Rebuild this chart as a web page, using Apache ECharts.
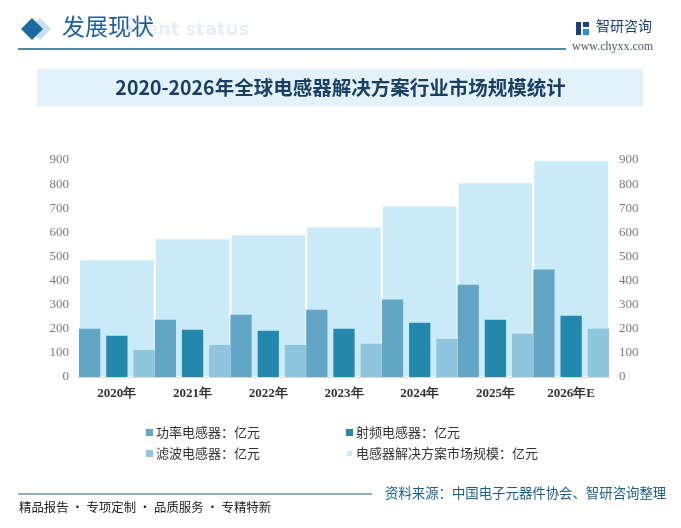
<!DOCTYPE html>
<html>
<head>
<meta charset="utf-8">
<script src="https://cdn.jsdelivr.net/npm/echarts@6/dist/echarts.min.js"></script>
<style>
  html, body { margin: 0; padding: 0; background: #fff; }
  #main { width: 681px; height: 528px; }
</style>
</head>
<body>
<div id="main"></div>
<script>
const years = ['2020年', '2021年', '2022年', '2023年', '2024年', '2025年', '2026年E'];
const powerInductor = [200, 237, 258, 279, 321, 383, 446];
const rfInductor = [171, 196, 192, 200, 225, 237, 254];
const filterInductor = [112, 133, 133, 138, 158, 179, 200];
const marketSize = [488, 575, 592, 625, 712, 808, 900];
const yTicks = [0, 900, 100];

const names = ['功率电感器：亿元', '射频电感器：亿元', '滤波电感器：亿元', '电感器解决方案市场规模：亿元'];
const colors = ['#62a5c4', '#2488ac', '#8fc6dd', '#cbeaf8'];

let chart = echarts.init(document.getElementById('main'));

let yAxisBase = {
    type: 'value',
    min: yTicks[0],
    max: yTicks[1],
    interval: yTicks[2],
    splitLine: { show: false },
    axisLine: { show: false },
    axisTick: { show: false },
    axisLabel: { color: '#7a7a7a', fontSize: 13, fontFamily: 'Liberation Serif', margin: 10 }
};

let legendBase = {
    top: 421, orient: 'vertical', itemGap: 8,
    itemWidth: 7, itemHeight: 7, icon: 'rect',
    textStyle: { color: '#333', fontSize: 13, fontFamily: 'Noto Sans CJK SC', padding: [0, 0, 0, -2] }
};

let option = {
    animation: false,
    backgroundColor: '#fff',
    grid: { left: 79, right: 72, top: 160, bottom: 151 },
    xAxis: [
        {
            type: 'category',
            data: years,
            axisLine: { lineStyle: { color: '#d9d9d9' } },
            axisTick: { show: false },
            axisLabel: { color: '#333', fontWeight: 'bold', fontSize: 13, fontFamily: 'Liberation Serif', margin: 10 }
        },
        { type: 'category', data: years, show: false }
    ],
    yAxis: [
        Object.assign({ position: 'left' }, yAxisBase),
        Object.assign({ position: 'right' }, yAxisBase)
    ],
    legend: [
        Object.assign({ left: 141, data: [names[0], names[2]] }, legendBase),
        Object.assign({ left: 340, data: [names[1], names[3]] }, legendBase)
    ],
    series: [
        {
            name: names[3], type: 'bar', data: marketSize,
            xAxisIndex: 1, yAxisIndex: 0, z: 1,
            barCategoryGap: '0%',
            itemStyle: { color: colors[3], borderColor: '#fff', borderWidth: 1 }
        },
        {
            name: names[0], type: 'bar', data: powerInductor, z: 2,
            barCategoryGap: '0%', barGap: '28%',
            itemStyle: { color: colors[0] }
        },
        {
            name: names[1], type: 'bar', data: rfInductor, z: 2,
            barGap: '28%',
            itemStyle: { color: colors[1] }
        },
        {
            name: names[2], type: 'bar', data: filterInductor, z: 2,
            barGap: '28%',
            itemStyle: { color: colors[2] }
        }
    ],
    graphic: [
        // header
        { type: 'text', left: 127, top: 21, z: 0,
          style: { text: 'ment status', fill: '#e8eef3', font: 'bold 18px "DejaVu Sans"' } },
        { type: 'polygon', z: 1, shape: { points: [[40, 18], [51, 29], [40, 40], [29, 29]] },
          style: { fill: '#c9dff0' } },
        { type: 'polygon', z: 2, shape: { points: [[32, 18], [43, 29], [32, 40], [21, 29]] },
          style: { fill: '#1d69a3' } },
        { type: 'text', left: 62, top: 15, z: 3,
          style: { text: '发展现状', fill: '#1d5f96', font: '23px "Noto Sans CJK SC"' } },
        { type: 'line', z: 2, shape: { x1: 18, y1: 49, x2: 566, y2: 49 },
          style: { stroke: '#1d5f8a', lineWidth: 1.5 } },
        // logo
        { type: 'rect', z: 2, shape: { x: 576, y: 22, width: 5, height: 13 }, style: { fill: '#1d3f7a' } },
        { type: 'rect', z: 2, shape: { x: 583, y: 22, width: 6, height: 5 }, style: { fill: '#1d3f7a' } },
        { type: 'rect', z: 2, shape: { x: 583, y: 29, width: 6, height: 6 }, style: { fill: '#2a8fd0' } },
        { type: 'text', left: 596, top: 19, z: 2,
          style: { text: '智研咨询', fill: '#1d3f7a', font: '14px "Noto Sans CJK SC"' } },
        { type: 'text', left: 572, top: 41, z: 2,
          style: { text: 'www.chyxx.com', fill: '#4a5a70', font: '12px "Liberation Serif"' } },
        // title band
        { type: 'rect', z: 0, shape: { x: 37, y: 69, width: 606, height: 37 }, style: { fill: '#e3f1fa' } },
        { type: 'text', z: 2, left: 'center', top: 78,
          style: { text: '2020-2026年全球电感器解决方案行业市场规模统计', fill: '#1b3f63',
                   font: 'bold 19.5px "Noto Sans CJK SC"' } },
        // footer
        { type: 'line', z: 2, shape: { x1: 18, y1: 494, x2: 372, y2: 494 },
          style: { stroke: '#1d5f8a', lineWidth: 1.2 } },
        { type: 'text', z: 2, left: 385, top: 486,
          style: { text: '资料来源：中国电子元器件协会、智研咨询整理', fill: '#1d5f8a', font: '13.4px "Noto Sans CJK SC"' } },
        { type: 'text', z: 2, left: 19, top: 501,
          style: { text: '精品报告 · 专项定制 · 品质服务 · 专精特新', fill: '#222', font: '12.4px "Noto Sans CJK SC"' } }
    ]
};

option && chart.setOption(option);
</script>
</body>
</html>
